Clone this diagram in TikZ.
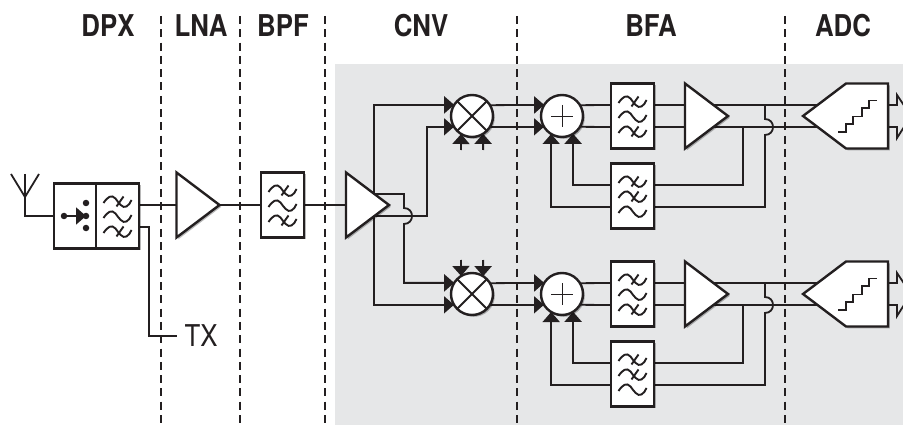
\documentclass[tikz,border=0pt]{standalone}
\usepackage{fontspec}
\usetikzlibrary{arrows.meta,backgrounds,shadows}
\newfontfamily\hdrfont[FakeStretch=0.86]{TeX Gyre Heros}
\definecolor{ink}{HTML}{231F20}
\definecolor{panel}{HTML}{E6E7E8}
\tikzset{
  x=1pt,y=-1pt,
  wire/.style={draw=ink,line width=1.8pt},
  feed/.style={wire,-{Triangle[length=10pt,width=17pt]}},
  section/.style={draw=ink,line width=1.2pt,dash pattern=on 8pt off 5.3pt},
  sh/.style={drop shadow={shadow xshift=1.8pt,shadow yshift=-1.8pt,fill=black,opacity=.28}},
  blockbox/.style={rectangle,draw=ink,fill=white,line width=2.4pt,inner sep=0pt,outer sep=0pt,sh},
  filterbox/.style={blockbox,minimum width=43pt,minimum height=65pt},
  ampframe/.style={rectangle,inner sep=0pt,outer sep=0pt,minimum width=43pt,minimum height=65pt},
  ampshape/.style={draw=ink,fill=white,line width=2.4pt,line join=miter,sh},
  round/.style={circle,draw=ink,fill=white,line width=2.4pt,inner sep=0pt,outer sep=0pt,minimum size=42pt,sh},
  wavestroke/.style={draw=ink,line width=1.9pt},
  header/.style={font=\hdrfont\bfseries\fontsize{30}{30}\selectfont,text=ink,inner sep=0pt},
  dot/.style={circle,fill=ink,inner sep=0pt,minimum size=6.5pt}
}
\newcommand\onewave[1]{\draw[wavestroke,shift={(0,#1)}] (-14,2) .. controls (-10,-4) and (-6,-7) .. (-2,-2.5) .. controls (1,1.5) and (5,8) .. (9,5.5) .. controls (11,4.2) and (13,2) .. (14,-1);}
\newcommand\onecross[1]{\draw[wavestroke,shift={(0,#1)}] (-1,5.5) -- (6,-4.5);}
\newcommand\amptri[1]{\path[ampshape] (#1.north west) -- (#1.east) -- (#1.south west) -- cycle;}
\begin{document}
\begin{tikzpicture}
\useasboundingbox (0,0) rectangle (903,425);

% headers
\node[header] (hdpx) at (108,26) {DPX};
\node[header] (hlna) at (201,26) {LNA};
\node[header] (hbpf) at (283,26) {BPF};
\node[header] (hcnv) at (421,26) {CNV};
\node[header] (hbfa) at (651,26) {BFA};
\node[header] (hadc) at (843,26) {ADC};

% front end
\node[blockbox,minimum width=42pt,minimum height=65pt] (dpxl) at (75,216) {};
\node[blockbox,minimum width=43pt,minimum height=65pt] (dpxr) at (117.5,216) {};
\begin{scope}[shift={(dpxr.center)}]
  \onewave{-15}\onewave{0}\onewave{15}\onecross{-15}\onecross{15}
\end{scope}
\node[dot] (swin) at (64,216) {};
\node[dot] (swa) at (86,203) {};
\node[dot] (swb) at (86,216) {};
\node[dot] (swc) at (86,228) {};
\draw[wire,-{Triangle[length=10pt,width=17pt]}] (swin) -- (swb.center);

\node[ampframe] (lna) at (198,205) {};
\amptri{lna}
\node[filterbox] (bpf) at (282.5,205) {};
\begin{scope}[shift={(bpf.center)}]
  \onewave{-15}\onewave{0}\onewave{15}\onecross{-15}\onecross{15}
\end{scope}
\node[ampframe] (cnv) at (367.5,205) {};
\amptri{cnv}
\node[inner sep=0pt,inner xsep=7pt,text=ink,font=\hdrfont\fontsize{30}{30}\selectfont] (tx) at (201,336) {TX};

% two I/Q chains
\foreach \r/\o in {u/0,l/178}{
  \node[round] (mix\r) at (472,116+\o) {};
  \draw[wire,line width=2.1pt] (mix\r.45) -- (mix\r.-135) (mix\r.135) -- (mix\r.-45);
  \node[round] (sum\r) at (562,116+\o) {};
  \draw[draw=ink,line width=.8pt] (551,116+\o) -- (573,116+\o) (562,105+\o) -- (562,127+\o);
  \node[filterbox] (flt\r) at (632.5,116+\o) {};
  \begin{scope}[shift={(flt\r.center)}]
    \onewave{-15}\onewave{0}\onewave{15}\onecross{-15}\onecross{15}
  \end{scope}
  \node[filterbox] (fb\r) at (632.5,196+\o) {};
  \begin{scope}[shift={(fb\r.center)}]
    \onewave{-15}\onewave{0}\onewave{15}\onecross{-15}\onecross{0}
  \end{scope}
  \node[ampframe] (amp\r) at (706.5,116+\o) {};
  \amptri{amp\r}
  \node[rectangle,inner sep=0pt,outer sep=0pt,minimum width=85pt,minimum height=65pt] (adc\r) at (845.5,116+\o) {};
  \path[ampshape] (adc\r.west) -- (846,83.5+\o) -- (adc\r.north east) -- (adc\r.south east) -- (846,148.5+\o) -- cycle;
  \draw[wavestroke,line width=1.7pt] (838,132+\o) -- (846,132+\o) -- (846,124+\o) -- (853,124+\o) -- (853,116.5+\o) -- (862,116.5+\o) -- (862,108+\o) -- (869,108+\o) -- (869,100.5+\o) -- (877,100.5+\o);
}

\begin{scope}[on background layer]
  \fill[panel] (335,64) rectangle (903,425);
  % section dividers
  \foreach \n/\x in {a/161,b/240,c/325,d/517,e/785}{
    \coordinate (top\n) at (\x,16);
    \coordinate (bot\n) at (\x,425);
    \draw[section] (top\n) -- (bot\n);
  }
  % antenna
  \coordinate (anta) at (11,174);
  \coordinate (antb) at (25,174);
  \coordinate (antc) at (39,174);
  \coordinate (ante) at (25,197);
  \draw[wire] (anta) -- (ante) -- (antc);
  \draw[wire] (antb) -- (ante) |- (dpxl.west);
  % front-end chain
  \draw[wire] ([yshift=11pt]dpxr.east) -- ([yshift=0pt]lna.west);
  \draw[wire] (lna.east) -- (bpf.west);
  \draw[wire] (bpf.east) -- (cnv.west);
  \coordinate (txk) at (149,227);
  \draw[wire] ([yshift=-11pt]dpxr.east) -- (txk) |- (tx.west);
  % converter feeds
  \coordinate (cfeed) at (374,205);
  \draw[feed] (cfeed) |- (mixu.148.4);
  \draw[feed] (cfeed) |- (mixl.211.6);
  \coordinate (up) at (427,216);
  \draw[feed] ([yshift=-11pt]cnv.center) -- (up) |- (mixu.211.6);
  \coordinate (dna) at (404,194);
  \coordinate (dnb) at (404,208);
  \coordinate (dnc) at (404,224);
  \draw[feed] ([yshift=11pt]cnv.center) -- (dna) -- (dnb)
     .. controls (414.7,208) and (414.7,224) .. (dnc) |- (mixl.148.4);
  % local oscillator stubs
  \coordinate (lou1) at (460.9,150);
  \coordinate (lou2) at (483.1,150);
  \coordinate (lol1) at (460.9,260);
  \coordinate (lol2) at (483.1,260);
  \draw[feed] (lou1) -- (mixu.-121.6);
  \draw[feed] (lou2) -- (mixu.-58.4);
  \draw[feed] (lol1) -- (mixl.121.6);
  \draw[feed] (lol2) -- (mixl.58.4);
  % baseband chains
  \foreach \r/\o in {u/0,l/178}{
    \draw[feed] (mix\r.31.6) -- (sum\r.148.4);
    \draw[feed] (mix\r.-31.6) -- (sum\r.211.6);
    \draw[wire] (sum\r.31.6) -- ([yshift=11pt]flt\r.west);
    \draw[wire] (sum\r.-31.6) -- ([yshift=-11pt]flt\r.west);
    \draw[wire] ([yshift=11pt]flt\r.east) -- ([yshift=11pt]adc\r.center);
    \draw[wire] ([yshift=-11pt]flt\r.east) -- ([yshift=-11pt]adc\r.center);
    \draw[feed] ([yshift=-11pt]fb\r.west) -| (sum\r.-121.6);
    \draw[feed] ([yshift=11pt]fb\r.west) -| (sum\r.-58.4);
    \coordinate (ja\r) at (743,127+\o);
    \draw[wire] ([yshift=11pt]fb\r.east) -| (ja\r);
    \coordinate (jb\r) at (765,105+\o);
    \coordinate (jc\r) at (765,119+\o);
    \coordinate (jd\r) at (765,135+\o);
    \coordinate (je\r) at (765,207+\o);
    \draw[wire] ([yshift=-11pt]fb\r.east) -- (je\r) -- (jd\r)
       .. controls (775.7,135+\o) and (775.7,119+\o) .. (jc\r) -- (jb\r);
  }
\end{scope}

% ADC output block arrows, cut by the picture edge
\begin{scope}
  \clip (0,0) rectangle (903,425);
  \foreach \r/\o in {u/0,l/178}{
    \coordinate (outa\r) at (897,105+\o);
    \coordinate (outb\r) at (897,95+\o);
    \coordinate (outc\r) at (911,116+\o);
    \coordinate (outd\r) at (897,138+\o);
    \coordinate (oute\r) at (897,127+\o);
    \draw[wire] ([yshift=11pt]adc\r.east) -- (outa\r) -- (outb\r) -- (outc\r) -- (outd\r) -- (oute\r) -- ([yshift=-11pt]adc\r.east);
  }
\end{scope}
\end{tikzpicture}
\end{document}
